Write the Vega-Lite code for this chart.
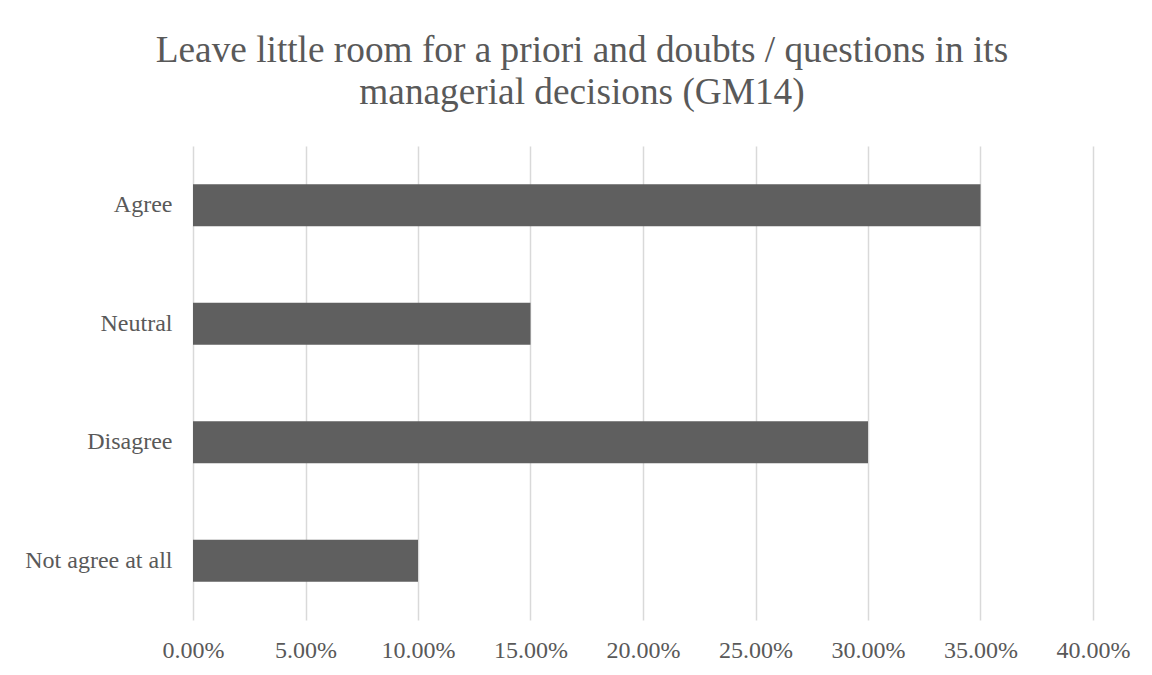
{
  "$schema": "https://vega.github.io/schema/vega-lite/v6.json",
  "width": 900,
  "height": 474,
  "autosize": {"type": "none"},
  "padding": {"left": 193, "top": 146, "right": 59, "bottom": 55},
  "background": "white",
  "title": {
    "text": ["Leave little room for a priori and doubts / questions in its", "managerial decisions (GM14)"],
    "anchor": "middle",
    "frame": "group",
    "dx": -61,
    "offset": 34,
    "fontSize": 37.3,
    "lineHeight": 42,
    "font": "Liberation Serif",
    "fontWeight": "normal",
    "color": "#595959"
  },
  "data": {
    "values": [
      {"response": "Agree", "share": 0.35},
      {"response": "Neutral", "share": 0.15},
      {"response": "Disagree", "share": 0.30},
      {"response": "Not agree at all", "share": 0.10}
    ]
  },
  "mark": {"type": "bar", "color": "#5f5f5f"},
  "encoding": {
    "y": {
      "field": "response",
      "type": "nominal",
      "sort": ["Agree", "Neutral", "Disagree", "Not agree at all"],
      "scale": {"paddingInner": 0.645, "paddingOuter": 0.3225},
      "axis": {
        "title": null,
        "ticks": false,
        "domain": false,
        "grid": false,
        "labelFont": "Liberation Serif",
        "labelFontSize": 24,
        "labelColor": "#595959",
        "labelPadding": 21
      }
    },
    "x": {
      "field": "share",
      "type": "quantitative",
      "scale": {"domain": [0, 0.4], "nice": false},
      "axis": {
        "title": null,
        "format": ".2%",
        "values": [0, 0.05, 0.1, 0.15, 0.2, 0.25, 0.3, 0.35, 0.4],
        "ticks": false,
        "domain": false,
        "grid": true,
        "gridColor": "#d9d9d9",
        "gridWidth": 1.5,
        "gridOpacity": 1,
        "labelFlush": false,
        "labelOverlap": false,
        "labelFont": "Liberation Serif",
        "labelFontSize": 24,
        "labelColor": "#595959",
        "labelPadding": 18
      }
    }
  },
  "config": {
    "view": {"stroke": null}
  }
}
